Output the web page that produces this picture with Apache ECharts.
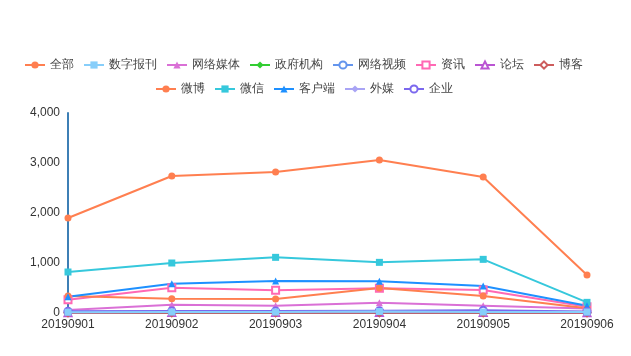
<!DOCTYPE html>
<html><head><meta charset="utf-8">
<script src="https://cdn.jsdelivr.net/npm/echarts@6/dist/echarts.min.js"></script>
<style>html,body{margin:0;padding:0;background:#fff}#c{width:631px;height:356px}</style>
</head><body><div id="c"></div>
<script>
const categories = ['20190901','20190902','20190903','20190904','20190905','20190906'];
const seriesNames = ['全部','数字报刊','网络媒体','政府机构','网络视频','资讯','论坛','博客','微博','微信','客户端','外媒','企业'];
const quanbu   = [1900, 2740, 2820, 3060, 2720, 760];
const shuzi    = [15, 20, 20, 30, 20, 20];
const wangluo  = [60, 167, 147, 207, 147, 90];
const zhengfu  = [8, 12, 12, 18, 12, 8];
const shipin   = [20, 25, 25, 30, 25, 15];
const zixun    = [267, 507, 453, 493, 460, 127];
const luntan   = [5, 8, 8, 10, 8, 5];
const boke     = [3, 5, 5, 5, 5, 3];
const weibo    = [340, 287, 280, 500, 340, 93];
const weixin   = [820, 1000, 1113, 1013, 1073, 213];
const kehuduan = [327, 587, 640, 633, 540, 147];
const waimei   = [25, 30, 30, 35, 30, 20];
const qiye     = [35, 40, 40, 45, 55, 30];
const values = [quanbu, shuzi, wangluo, zhengfu, shipin, zixun, luntan, boke, weibo, weixin, kehuduan, waimei, qiye];
const colors = ['#ff7f50','#87cefa','#da70d6','#32cd32','#6495ed','#ff69b4','#ba55d3','#cd5c5c','#ff7f50','#36c8dc','#1e90ff','#a9a4f5','#7b68ee'];
const symbols = ['circle','rect','triangle','diamond','emptyCircle','emptyRect','emptyTriangle','emptyDiamond','circle','rect','triangle','diamond','emptyCircle'];

const legendBase = {
  orient: 'horizontal', itemGap: 9, itemWidth: 20, itemHeight: 9,
  textStyle: { fontSize: 12, color: '#444' }
};
const chart = echarts.init(document.getElementById('c'));
chart.setOption({
  animation: false,
  color: colors,
  legend: [
    Object.assign({}, legendBase, { left: 19, top: 54, data: seriesNames.slice(0, 8) }),
    Object.assign({}, legendBase, { left: 150, top: 78, data: seriesNames.slice(8) })
  ],
  grid: { left: 68, right: 44, top: 113, bottom: 43 },
  xAxis: {
    type: 'category', data: categories, boundaryGap: false,
    axisLine: { lineStyle: { color: '#3d7fb5', width: 2 } },
    axisTick: { show: true, length: 4, lineStyle: { color: '#333' } },
    axisLabel: { color: '#333', fontSize: 12, margin: 6 }
  },
  yAxis: {
    type: 'value', min: 0, max: 4000, interval: 1000,
    axisLine: { show: true, lineStyle: { color: '#3d7fb5', width: 2 } },
    axisTick: { show: false },
    splitLine: { show: false },
    axisLabel: { color: '#333', fontSize: 12, formatter: v => v.toLocaleString('en-US') }
  },
  series: seriesNames.map((n, i) => ({
    name: n, type: 'line', data: values[i],
    symbol: symbols[i], symbolSize: 7, showAllSymbol: true,
    z: i === 1 ? 3 : 2,
    lineStyle: { width: 2 }
  }))
});
</script></body></html>
